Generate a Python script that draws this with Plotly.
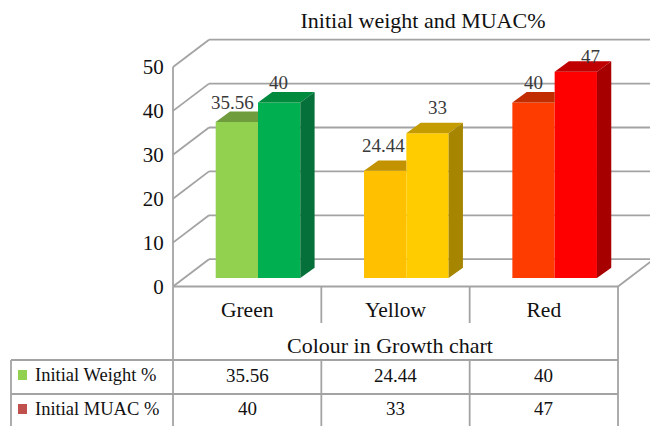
import plotly.graph_objects as go

# Chart data
categories = ["Green", "Yellow", "Red"]
weight_pct = [35.56, 24.44, 40]
muac_pct = [40, 33, 47]
y_ticks = [0, 10, 20, 30, 40, 50]
series_names = ["Initial Weight %", "Initial MUAC %"]
swatch_colors = ["#92d050", "#c0504d"]

# Per-category face colours
weight_front = ["#92d050", "#ffc000", "#ff3c00"]
weight_top = ["#6f9c3d", "#c29200", "#c22d00"]
muac_front = ["#00b050", "#ffcc00", "#ff0000"]
muac_top = ["#008a3e", "#c49c00", "#c00000"]
muac_side = ["#06703a", "#a68500", "#a60000"]

# Nudges for each value label, in pixels
weight_label_lift = [19, 25, 20]
muac_label_lift = [20, 26, 15]
weight_label_shift = [2, 4, 6]
muac_label_shift = [-5, 6, 10]

W, H = 650, 426
GRID = "#a3a3a3"
FONT = "Liberation Serif"

# Page geometry of the plot frame
LEFT_PX, RIGHT_PX = 173, 618
BASE_PX, TOP_PX = 286.5, 67
PX_X = (RIGHT_PX - LEFT_PX) / 3
PX_Y = (BASE_PX - TOP_PX) / 50
x_range = [-LEFT_PX / PX_X, (W - LEFT_PX) / PX_X]
y_range = [-(H - BASE_PX) / PX_Y, BASE_PX / PX_Y]

# Perspective offsets: chart walls, and each bar's depth
WALL_DX, WALL_DY = 36 / PX_X, 27.3 / PX_Y
BAR_DX, BAR_DY = 14.3 / PX_X, 10.3 / PX_Y
BAR_W = 42.3 / PX_X
BAR_BASE = 8.5 / PX_Y
GROUP_SHIFT = 0.073


def line(x0, y0, x1, y1, ref="x"):
    yref = "y" if ref == "x" else "paper"
    xref = "x" if ref == "x" else "paper"
    return dict(type="line", xref=xref, yref=yref, x0=x0, y0=y0, x1=x1, y1=y1,
                layer="below", line=dict(color=GRID, width=1.8))


def page_line(px0, py0, px1, py1):
    return line(px0 / W, 1 - py0 / H, px1 / W, 1 - py1 / H, ref="paper")


def page_text(text, px, py, size=19, xanchor="center"):
    return dict(text=text, xref="paper", yref="paper", x=px / W, y=1 - py / H,
                xanchor=xanchor, yanchor="middle", showarrow=False,
                font=dict(family=FONT, size=size, color="#111111"))


fig = go.Figure()

centres = [i + 0.5 + GROUP_SHIFT for i in range(len(categories))]

# Front faces
fig.add_trace(go.Bar(x=[c - BAR_W / 2 for c in centres], y=weight_pct, base=BAR_BASE,
                     width=BAR_W, marker=dict(color=weight_front, line_width=0),
                     name=series_names[0], showlegend=False))
fig.add_trace(go.Bar(x=[c + BAR_W / 2 for c in centres], y=muac_pct, base=BAR_BASE,
                     width=BAR_W, marker=dict(color=muac_front, line_width=0),
                     name=series_names[1], showlegend=False))


def face(xs, ys, color):
    fig.add_trace(go.Scatter(x=xs, y=ys, mode="lines", fill="toself", fillcolor=color,
                             line=dict(width=0), hoverinfo="skip", showlegend=False))


# Top and side faces; the shorter bar's top stops where the taller bar begins
for i, c in enumerate(centres):
    lo, mid, hi = c - BAR_W, c, c + BAR_W
    t0 = BAR_BASE + weight_pct[i]
    t1 = BAR_BASE + muac_pct[i]
    face([lo, mid, mid, lo + BAR_DX, lo], [t0, t0, t0 + BAR_DY, t0 + BAR_DY, t0], weight_top[i])
    face([mid, hi, hi + BAR_DX, mid + BAR_DX, mid], [t1, t1, t1 + BAR_DY, t1 + BAR_DY, t1], muac_top[i])
    face([hi, hi + BAR_DX, hi + BAR_DX, hi, hi],
         [BAR_BASE, BAR_BASE + BAR_DY, t1 + BAR_DY, t1, BAR_BASE], muac_side[i])

# Walls and floor of the chart box
shapes = []
for t in y_ticks:
    shapes.append(line(0, t, WALL_DX, t + WALL_DY))
    shapes.append(line(WALL_DX, t + WALL_DY, 3 + WALL_DX, t + WALL_DY))
shapes.append(line(3, 0, 3 + WALL_DX, WALL_DY))
shapes.append(line(0, 0, 0, y_ticks[-1]))
shapes.append(line(0, 0, 3, 0))

# Data table rules
ROW_TOP, ROW_MID, PAGE_END = 360, 394, 426
shapes += [
    page_line(LEFT_PX, BASE_PX, LEFT_PX, PAGE_END),
    page_line(RIGHT_PX, BASE_PX, RIGHT_PX, PAGE_END),
    page_line(11, ROW_TOP, RIGHT_PX, ROW_TOP),
    page_line(11, ROW_MID, RIGHT_PX, ROW_MID),
    page_line(11, ROW_TOP, 11, PAGE_END),
]
for k in (1, 2):
    sep = LEFT_PX + k * PX_X
    shapes.append(page_line(sep, BASE_PX, sep, 323))
    shapes.append(page_line(sep, ROW_TOP, sep, PAGE_END))

# Legend keys in the table's first column
for color, py in zip(swatch_colors, (375, 409)):
    shapes.append(dict(type="rect", xref="paper", yref="paper", x0=18 / W, x1=27 / W,
                       y0=1 - (py + 5) / H, y1=1 - (py - 5) / H,
                       fillcolor=color, line_width=0, layer="above"))

# Value labels above the bars
annotations = []
for i, c in enumerate(centres):
    annotations.append(dict(text=f"{weight_pct[i]:g}", x=c - BAR_W / 2 - 0.04,
                            y=BAR_BASE + weight_pct[i], yshift=weight_label_lift[i],
                            xshift=weight_label_shift[i],
                            showarrow=False, yanchor="middle",
                            font=dict(family=FONT, size=19, color="#3a3a3a")))
    annotations.append(dict(text=f"{muac_pct[i]:g}", x=c + BAR_W / 2 + 0.03,
                            y=BAR_BASE + muac_pct[i], yshift=muac_label_lift[i],
                            xshift=muac_label_shift[i],
                            showarrow=False, yanchor="middle",
                            font=dict(family=FONT, size=19, color="#3a3a3a")))

# Data table text
annotations.append(page_text("Colour in Growth chart", 390, 345, size=22))
annotations.append(page_text(series_names[0], 33, 375, size=18.5, xanchor="left"))
annotations.append(page_text(series_names[1], 33, 409, size=18.5, xanchor="left"))
for i in range(len(categories)):
    px = LEFT_PX + (i + 0.5) * PX_X
    annotations.append(page_text(f"{weight_pct[i]:g}", px, 375))
    annotations.append(page_text(f"{muac_pct[i]:g}", px, 408))

fig.update_layout(
    width=W, height=H, autosize=False,
    margin=dict(l=0, r=0, t=0, b=0, pad=0),
    paper_bgcolor="white", plot_bgcolor="white",
    showlegend=False, barmode="overlay",
    title=dict(text="Initial weight and MUAC%", x=423 / W, xanchor="center",
               xref="paper", y=1 - 20 / H, yref="paper", yanchor="middle",
               font=dict(family=FONT, size=22, color="#111111")),
    shapes=shapes, annotations=annotations,
    xaxis=dict(range=x_range, domain=[0, 1], anchor="free",
               position=1 - BASE_PX / H, showgrid=False, zeroline=False, showline=False,
               tickmode="array", tickvals=[i + 0.5 for i in range(len(categories))],
               ticktext=categories, ticks="outside", ticklen=4, tickcolor="rgba(0,0,0,0)",
               tickfont=dict(family=FONT, size=21.5, color="#111111"), fixedrange=True),
    yaxis=dict(range=y_range, domain=[0, 1], anchor="free", position=LEFT_PX / W,
               showgrid=False, zeroline=False, showline=False,
               tickmode="array", tickvals=y_ticks, ticks="outside", ticklen=5,
               tickcolor="rgba(0,0,0,0)",
               tickfont=dict(family=FONT, size=21, color="#111111"), fixedrange=True),
)

fig.write_html("out.html")
